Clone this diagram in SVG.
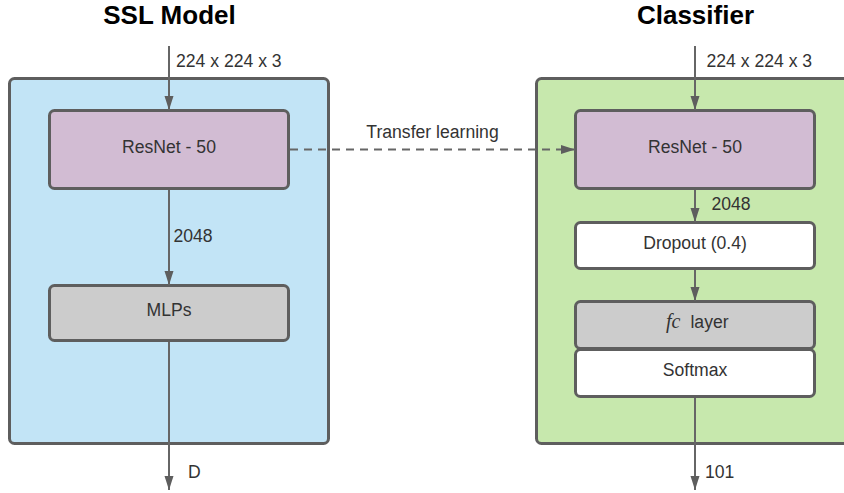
<svg xmlns="http://www.w3.org/2000/svg" width="844" height="493" viewBox="0 0 844 493">
  <style>
    .title { font-family: "Liberation Sans", Arial, sans-serif; font-weight: bold; font-size: 26px; fill: #000; text-anchor: middle; }
    .lbl { font-family: "Liberation Sans", Arial, sans-serif; font-size: 17.6px; fill: #333; }
    .ctr { text-anchor: middle; }
    .frame { stroke: #5e5e5e; stroke-width: 3; }
    .node { stroke: #5e5e5e; stroke-width: 3; }
    .wire { stroke: #666; stroke-width: 2; fill: none; }
    .dash { stroke-dasharray: 8 6; }
  </style>
  <defs>
    <marker id="arrow" viewBox="0 0 14 10" refX="14" refY="5" markerWidth="14" markerHeight="10" markerUnits="userSpaceOnUse" orient="auto">
      <path d="M0,0.5 L14,5 L0,9.5 Z" fill="#5e5e5e"/>
    </marker>
  </defs>

  <rect width="844" height="493" fill="#fff"/>

  <!-- titles -->
  <text class="title" x="169.5" y="24">SSL Model</text>
  <text class="title" x="695.5" y="24">Classifier</text>

  <!-- SSL model container -->
  <g id="ssl-model">
    <rect class="frame" x="9.5" y="78.5" width="319" height="365" rx="5" fill="#c2e4f6"/>
  </g>

  <!-- classifier container (runs past the right edge) -->
  <g id="classifier">
    <rect class="frame" x="536.5" y="78.5" width="330" height="365" rx="5" fill="#c7e8ad"/>
  </g>

  <g id="ssl-resnet">
    <rect class="node" x="49.5" y="110.5" width="239" height="78" rx="5" fill="#d2bcd3"/>
    <text class="lbl ctr" x="169" y="153">ResNet - 50</text>
  </g>

  <g id="ssl-mlps">
    <rect class="node" x="49.5" y="285.5" width="239" height="55" rx="5" fill="#cccccc"/>
    <text class="lbl ctr" x="169" y="316">MLPs</text>
  </g>

  <g id="clf-resnet">
    <rect class="node" x="575.5" y="110.5" width="239" height="78" rx="5" fill="#d2bcd3"/>
    <text class="lbl ctr" x="695" y="153">ResNet - 50</text>
  </g>

  <g id="clf-dropout">
    <rect class="node" x="575.5" y="222.5" width="239" height="46" rx="5" fill="#ffffff"/>
    <text class="lbl ctr" x="695" y="249">Dropout (0.4)</text>
  </g>

  <g id="clf-fc">
    <rect class="node" x="575.5" y="301.5" width="239" height="47" rx="5" fill="#cccccc"/>
    <text class="lbl" x="666" y="328"><tspan font-family="'Liberation Serif', 'Times New Roman', serif" font-style="italic" font-size="20">fc</tspan><tspan dx="10">layer</tspan></text>
  </g>

  <g id="clf-softmax">
    <rect class="node" x="575.5" y="349.5" width="239" height="47" rx="5" fill="#ffffff"/>
    <text class="lbl ctr" x="695" y="376">Softmax</text>
  </g>

  <!-- connectors -->
  <g id="connectors">
    <line class="wire" x1="169" y1="46" x2="169" y2="110" marker-end="url(#arrow)"/>
    <line class="wire" x1="169" y1="190" x2="169" y2="285" marker-end="url(#arrow)"/>
    <line class="wire" x1="169" y1="342" x2="169" y2="490" marker-end="url(#arrow)"/>

    <line class="wire" x1="695" y1="46" x2="695" y2="110" marker-end="url(#arrow)"/>
    <line class="wire" x1="695" y1="190" x2="695" y2="222" marker-end="url(#arrow)"/>
    <line class="wire" x1="695" y1="270" x2="695" y2="301" marker-end="url(#arrow)"/>
    <line class="wire" x1="695" y1="398" x2="695" y2="490" marker-end="url(#arrow)"/>

    <line class="wire dash" x1="290" y1="149.5" x2="575" y2="149.5" marker-end="url(#arrow)"/>

    <text class="lbl" x="176" y="66.5">224 x 224 x 3</text>
    <text class="lbl" x="706.5" y="66.5">224 x 224 x 3</text>
    <text class="lbl" x="173.5" y="241.5">2048</text>
    <text class="lbl" x="711.5" y="210">2048</text>
    <text class="lbl" x="188" y="478">D</text>
    <text class="lbl" x="705" y="478">101</text>
    <text class="lbl ctr" x="432.5" y="138">Transfer learning</text>
  </g>
</svg>
